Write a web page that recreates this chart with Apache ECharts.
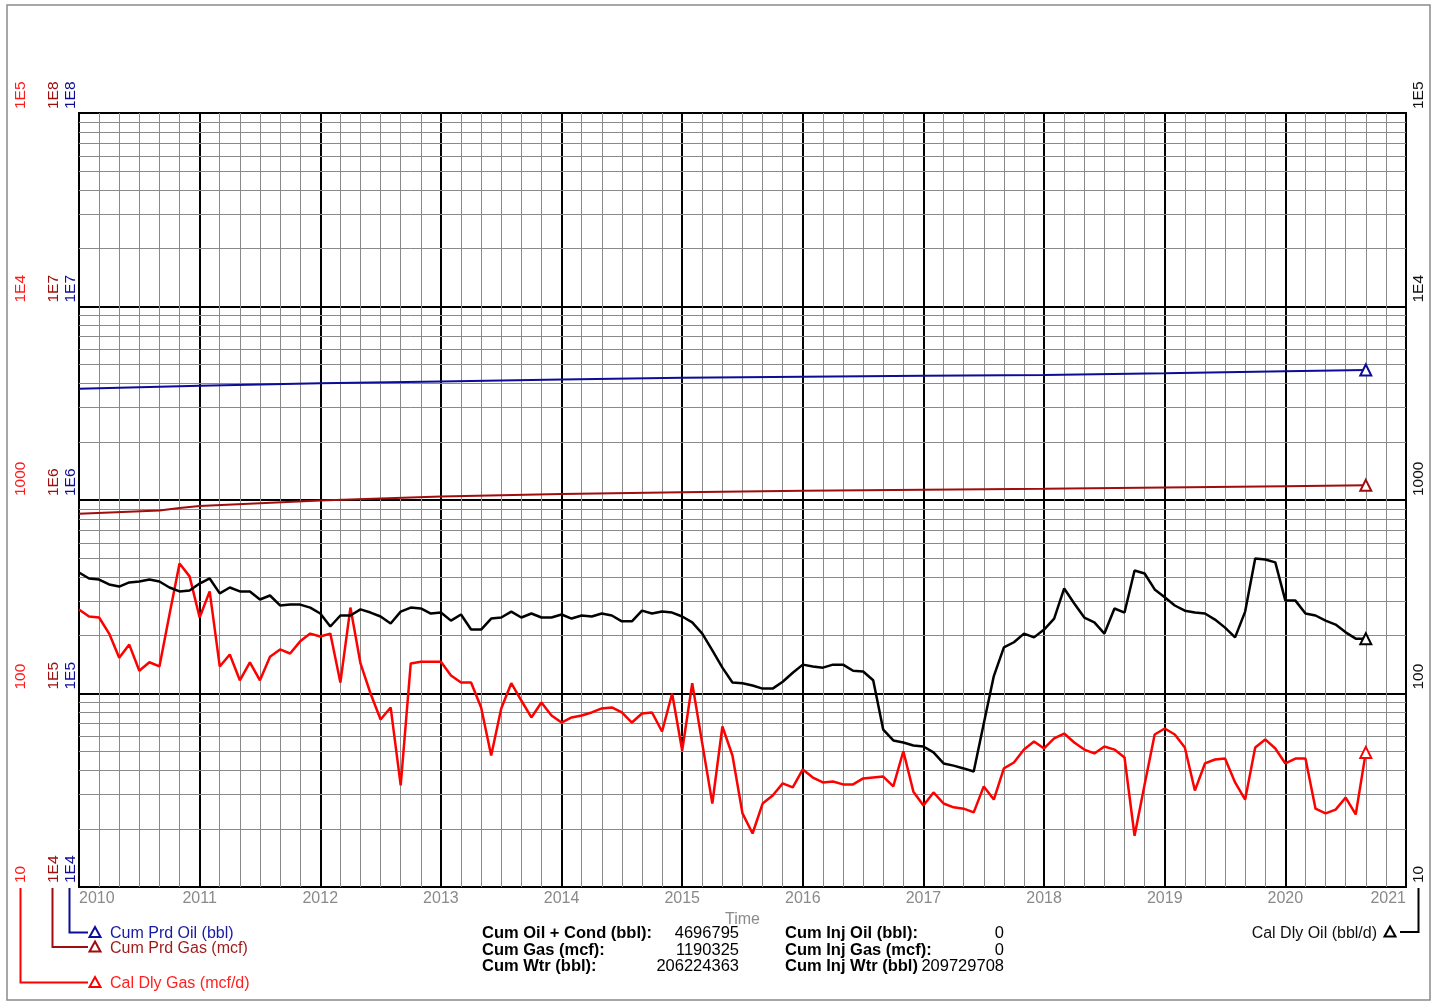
<!DOCTYPE html>
<html>
<head>
<meta charset="utf-8">
<title>Production history</title>
<script src="https://cdn.jsdelivr.net/npm/echarts@6/dist/echarts.min.js"></script>
<style>
html, body { margin: 0; padding: 0; background: #fff; }
#chart { width: 1437px; height: 1003px; }
</style>
</head>
<body>
<div id="chart"></div>
<script>
// Monthly rate history starts January 2010
const startYear = 2010;
const startMonth = 1;

// Calendar-day oil rate, bbl/d (one value per month)
const oilRate = [
  422, 393, 388, 366, 357, 375, 379, 388, 379, 353, 337, 341,
  370, 393, 329, 353, 337, 337, 306, 321, 285, 288, 288, 278,
  259, 222, 253, 253, 272, 262, 250, 230, 265, 278, 275, 259,
  262, 238, 256, 214, 214, 244, 247, 265, 247, 259, 247, 247,
  256, 244, 253, 250, 259, 253, 236, 236, 268, 259, 265, 262,
  250, 233, 204, 167, 136, 114, 113, 110, 106, 106, 115, 128,
  141, 138, 136, 141, 141, 131, 130, 117, 65, 57.2, 55.8, 53.9,
  53.2, 49.6, 43.5, 42.4, 41.0, 39.5, 70, 123, 173, 184, 204, 195,
  214, 244, 349, 292, 247, 233, 204, 275, 262, 432, 417, 345,
  314, 285, 268, 262, 259, 241, 219, 195, 265, 499, 493, 476,
  302, 302, 259, 253, 238, 227, 207, 192, 192
];

// Calendar-day gas rate, mcf/d (one value per month)
const gasRate = [
  272, 250, 247, 204, 153, 179, 131, 145, 138, 256, 470, 403,
  247, 337, 138, 159, 117, 145, 117, 155, 169, 161, 186, 204,
  197, 204, 114, 278, 143, 100, 73.4, 84.7, 33.5, 143, 146, 146,
  146, 124, 114, 114, 84.7, 47.8, 83.7, 113, 92.0, 75.2, 89.8, 77.0,
  70.8, 75.2, 77.0, 79.8, 83.7, 84.7, 79.8, 70.8, 78.8, 79.8, 63.6, 100,
  50.7, 113, 55.1, 27.0, 67.5, 47.8, 24.0, 18.9, 27.0, 29.7, 34.3, 32.7,
  40.5, 36.8, 34.7, 35.1, 33.9, 33.9, 36.4, 36.8, 37.2, 33.1, 50.3, 31.1,
  26.4, 30.8, 27.0, 25.8, 25.4, 24.3, 33.1, 28.3, 41.0, 44.0, 51.3, 56.5,
  52.0, 58.6, 62.1, 55.8, 51.3, 49.0, 53.2, 51.3, 46.7, 18.4, 33.9, 61.4,
  65.9, 61.4, 52.6, 31.5, 43.5, 45.6, 46.1, 34.7, 28.3, 52.6, 57.9, 52.0,
  43.5, 46.1, 46.1, 25.4, 24.0, 25.1, 29.0, 23.7, 49.6
];

// Cumulative oil produced, bbl
const cumOilDates = ['2010-01', '2011-01', '2012-01', '2013-01', '2014-01', '2015-01',
  '2016-01', '2017-01', '2018-01', '2019-01', '2020-01', '2020-09'];
const cumOil = [3760000, 3890000, 4010000, 4100000, 4190000, 4280000,
  4340000, 4390000, 4430000, 4520000, 4630000, 4696795];

// Cumulative gas produced, mcf
const cumGasDates = ['2010-01', '2010-09', '2010-11', '2011-01', '2012-01', '2013-01', '2014-01',
  '2015-01', '2016-01', '2017-01', '2018-01', '2019-01', '2020-01', '2020-09'];
const cumGas = [849000, 883000, 908000, 932000, 994000, 1043000, 1074000,
  1098000, 1116000, 1130000, 1143000, 1160000, 1177000, 1190325];

// Axis ticks
const dailyTicks = [10, 100, 1000, 10000, 100000];
const dailyTickLabels = ['10', '100', '1000', '1E4', '1E5'];
const cumTicks = [1e4, 1e5, 1e6, 1e7, 1e8];
const cumTickLabels = ['1E4', '1E5', '1E6', '1E7', '1E8'];
const minorMultipliers = [2, 3, 4, 5, 6, 7, 8, 9];

// Well totals
const summaryLeft = [
  ['Cum Oil + Cond (bbl):', '4696795'],
  ['Cum Gas (mcf):', '1190325'],
  ['Cum Wtr (bbl):', '206224363']
];
const summaryRight = [
  ['Cum Inj Oil (bbl):', '0'],
  ['Cum Inj Gas (mcf):', '0'],
  ['Cum Inj Wtr (bbl)', '209729708']
];

const COLORS = {
  oil: '#000000',
  gas: '#ff0000',
  cumGas: '#a00d0d',
  cumOil: '#0c0c96',
  grid: '#8a8a8a',
  tickText: '#8a8a8a'
};
const FONT = '"Liberation Sans", Arial, Helvetica, sans-serif';

function toYear(s) {
  const [y, m] = s.split('-').map(Number);
  return y + (m - 1) / 12;
}
const rateMonths = oilRate.map((_, i) => {
  const t = startMonth - 1 + i;
  return (startYear + Math.floor(t / 12)) + '-' + String(t % 12 + 1).padStart(2, '0');
});

const oilPoints = rateMonths.map((d, i) => [toYear(d), oilRate[i]]);
const gasPoints = rateMonths.map((d, i) => [toYear(d), gasRate[i]]);
const cumOilPoints = cumOilDates.map((d, i) => [toYear(d), cumOil[i]]);
const cumGasPoints = cumGasDates.map((d, i) => [toYear(d), cumGas[i]]);

// Minor log grid lines (2..9 in each decade of the rate axis)
const minorValues = [];
dailyTicks.slice(0, -1).forEach(dec => minorMultipliers.forEach(m => minorValues.push(m * dec)));

function lineSeries(name, points, color, width, yAxisIndex, extra) {
  const last = points.length - 1;
  return Object.assign({
    name,
    type: 'line',
    yAxisIndex,
    data: points,
    showSymbol: true,
    symbol: (v, p) => (p.dataIndex === last ? 'triangle' : 'none'),
    symbolSize: 11,
    itemStyle: { color: '#ffffff', borderColor: color, borderWidth: 2 },
    lineStyle: { color, width },
    emphasis: { disabled: true },
    silent: true,
    z: 3,
    animation: false
  }, extra || {});
}

const logAxis = (min, max, position, extra) => Object.assign({
  type: 'log',
  logBase: 10,
  min, max, position,
  axisLine: { show: false },
  axisTick: { show: false },
  axisLabel: { show: false },
  splitLine: { show: false },
  minorTick: { show: false },
  minorSplitLine: { show: false }
}, extra || {});

const chart = echarts.init(document.getElementById('chart'), null, { renderer: 'canvas' });

chart.setOption({
  animation: false,
  backgroundColor: '#ffffff',
  grid: {
    left: 79, right: 31, top: 113, bottom: 116,
    show: true, borderColor: '#000', borderWidth: 2, backgroundColor: 'transparent'
  },
  xAxis: {
    type: 'value',
    min: 2010, max: 2021, interval: 1,
    name: 'Time',
    nameLocation: 'middle',
    nameGap: 20,
    nameTextStyle: { color: COLORS.tickText, fontSize: 16, fontFamily: FONT, verticalAlign: 'top' },
    axisLine: { show: false },
    axisTick: { show: false },
    axisLabel: {
      color: COLORS.tickText, fontSize: 16, fontFamily: FONT, margin: 4,
      formatter: v => String(Math.round(v)),
      alignMinLabel: 'left', alignMaxLabel: 'right'
    },
    splitLine: { show: true, lineStyle: { color: '#000', width: 2 } },
    minorTick: { show: false, splitNumber: 6 },
    minorSplitLine: { show: true, lineStyle: { color: COLORS.grid, width: 1 } }
  },
  yAxis: [
    logAxis(10, 100000, 'left', { splitLine: { show: true, lineStyle: { color: '#000', width: 2 } } }),
    logAxis(10, 100000, 'right'),
    logAxis(1e4, 1e8, 'left'),
    logAxis(1e4, 1e8, 'left')
  ],
  series: [
    lineSeries('Cal Dly Gas (mcf/d)', gasPoints, COLORS.gas, 2.5, 0, {
      markLine: {
        silent: true,
        z: 1,
        animation: false,
        symbol: ['none', 'none'],
        label: { show: false },
        emphasis: { disabled: true },
        lineStyle: { color: COLORS.grid, width: 1, type: 'solid' },
        data: minorValues.map(v => ({ yAxis: v }))
      }
    }),
    lineSeries('Cal Dly Oil (bbl/d)', oilPoints, COLORS.oil, 2.5, 1),
    lineSeries('Cum Prd Gas (mcf)', cumGasPoints, COLORS.cumGas, 2, 2),
    lineSeries('Cum Prd Oil (bbl)', cumOilPoints, COLORS.cumOil, 2, 3)
  ]
});

// Rotated tick labels, connectors, legend and totals
const g = [];
const textStyle = (text, fill, size, weight, align, vAlign) => ({
  text, fill,
  font: (weight || 'normal') + ' ' + size + 'px ' + FONT,
  align: align || 'left',
  verticalAlign: vAlign || 'middle'
});
function vLabel(x, y, text, color) {
  g.push({ type: 'text', x, y, rotation: Math.PI / 2, silent: true, style: textStyle(text, color, 15.5) });
}

const axisCols = [
  { x: 21, axis: 0, ticks: dailyTicks, labels: dailyTickLabels, color: '#ff1a1a' },
  { x: 53.5, axis: 2, ticks: cumTicks, labels: cumTickLabels, color: COLORS.cumGas },
  { x: 70.5, axis: 3, ticks: cumTicks, labels: cumTickLabels, color: COLORS.cumOil },
  { x: 1418.5, axis: 1, ticks: dailyTicks, labels: dailyTickLabels, color: '#111' }
];
axisCols.forEach(col => {
  col.ticks.forEach((v, i) => {
    const y = chart.convertToPixel({ yAxisIndex: col.axis }, v);
    vLabel(col.x, y - 4, col.labels[i], col.color);
  });
});

const axisBottom = chart.convertToPixel({ yAxisIndex: 0 }, dailyTicks[0]);

// Legend entries hanging from each axis column
const legendRows = [
  { x: 69.5, y: 932.5, color: COLORS.cumOil, text: 'Cum Prd Oil (bbl)', textColor: '#1a1aa0' },
  { x: 52.5, y: 947, color: COLORS.cumGas, text: 'Cum Prd Gas (mcf)', textColor: '#9e1a1a' },
  { x: 20.5, y: 982.5, color: COLORS.gas, text: 'Cal Dly Gas (mcf/d)', textColor: '#ff1f1f' }
];
function triangle(cx, cy, color) {
  g.push({
    type: 'polygon', silent: true,
    shape: { points: [[cx, cy - 5.5], [cx + 5.5, cy + 4.5], [cx - 5.5, cy + 4.5]] },
    style: { fill: '#fff', stroke: color, lineWidth: 2 }
  });
}
legendRows.forEach(r => {
  g.push({
    type: 'polyline', silent: true,
    shape: { points: [[r.x, axisBottom + 1], [r.x, r.y], [88, r.y]] },
    style: { stroke: r.color, lineWidth: 2, fill: null }
  });
  triangle(95, r.y, r.color);
  g.push({ type: 'text', x: 110, y: r.y + 1.5, silent: true, style: textStyle(r.text, r.textColor, 16) });
});
g.push({
  type: 'polyline', silent: true,
  shape: { points: [[1418.5, axisBottom + 1], [1418.5, 932], [1400, 932]] },
  style: { stroke: '#000', lineWidth: 2, fill: null }
});
triangle(1390, 932, '#000');
g.push({ type: 'text', x: 1377, y: 933.5, silent: true, style: textStyle('Cal Dly Oil (bbl/d)', '#111', 16, 'normal', 'right') });

// Totals block
const rowY = [933.5, 950, 966.5];
summaryLeft.forEach((row, i) => {
  g.push({ type: 'text', x: 482, y: rowY[i], silent: true, style: textStyle(row[0], '#000', 16.5, 'bold') });
  g.push({ type: 'text', x: 739, y: rowY[i], silent: true, style: textStyle(row[1], '#000', 16.5, 'normal', 'right') });
});
summaryRight.forEach((row, i) => {
  g.push({ type: 'text', x: 785, y: rowY[i], silent: true, style: textStyle(row[0], '#000', 16.5, 'bold') });
  g.push({ type: 'text', x: 1004, y: rowY[i], silent: true, style: textStyle(row[1], '#000', 16.5, 'normal', 'right') });
});

// Outer frame
g.push({
  type: 'rect', silent: true, z: -1,
  shape: { x: 7, y: 5, width: 1423, height: 995 },
  style: { fill: null, stroke: '#8a8a8a', lineWidth: 1.5 }
});

chart.setOption({ graphic: g });
</script>
</body>
</html>
